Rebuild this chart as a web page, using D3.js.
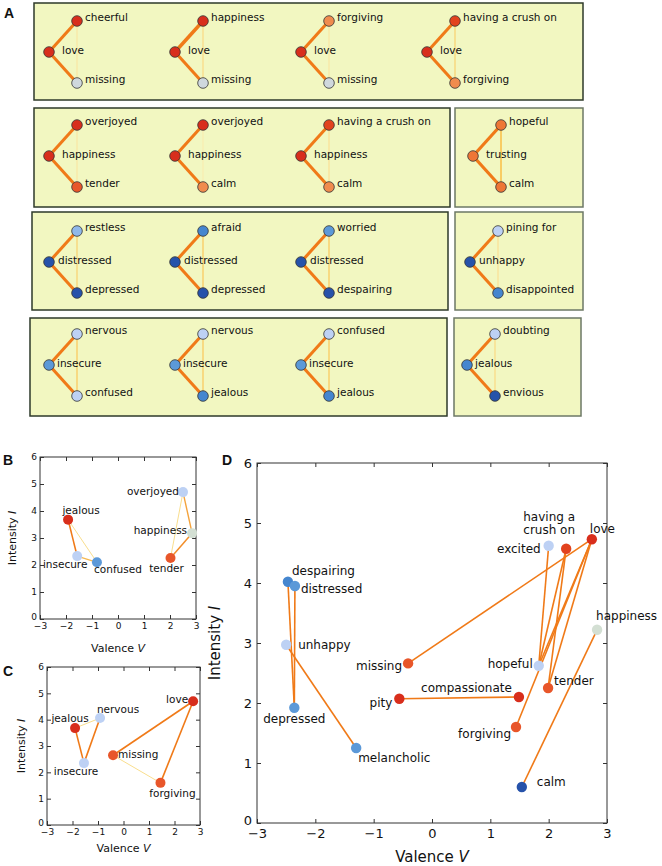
<!DOCTYPE html>
<html>
<head>
<meta charset="utf-8">
<script src="https://cdn.jsdelivr.net/npm/d3@7"></script>
<style>
  body { margin: 0; background: #fff; }
  svg { display: block; }
  text { font-family: "DejaVu Sans", sans-serif; fill: #111; }
  .panel { font-family: "Liberation Sans", Arial, sans-serif; font-weight: bold; }
</style>
</head>
<body>
<svg id="fig" width="662" height="866"></svg>
<script>
// ---------- data ----------
// panel A: one entry per triangle (hub, top, bottom)
const aRow = [0, 0, 0, 0, 1, 1, 1, 1, 2, 2, 2, 2, 3, 3, 3, 3];
const aBox = [0, 0, 0, 0, 0, 0, 0, 1, 0, 0, 0, 1, 0, 0, 0, 1];
const aCol = [0, 1, 2, 3, 0, 1, 2, 0, 0, 1, 2, 0, 0, 1, 2, 0];
const aWords = [
  ["love", "cheerful", "missing"],
  ["love", "happiness", "missing"],
  ["love", "forgiving", "missing"],
  ["love", "having a crush on", "forgiving"],
  ["happiness", "overjoyed", "tender"],
  ["happiness", "overjoyed", "calm"],
  ["happiness", "having a crush on", "calm"],
  ["trusting", "hopeful", "calm"],
  ["distressed", "restless", "depressed"],
  ["distressed", "afraid", "depressed"],
  ["distressed", "worried", "despairing"],
  ["unhappy", "pining for", "disappointed"],
  ["insecure", "nervous", "confused"],
  ["insecure", "nervous", "jealous"],
  ["insecure", "confused", "jealous"],
  ["jealous", "doubting", "envious"]
];
const aTones = [
  ["r", "r", "g"], ["r", "r", "g"], ["r", "o", "g"], ["r", "ro", "o"],
  ["r", "r", "or"], ["r", "r", "o"], ["r", "ro", "o"], ["o2", "o2", "o2"],
  ["db", "lb2", "db"], ["db", "mb2", "db"], ["db", "mb", "db"], ["db", "lb", "mb2"],
  ["mb", "lb", "lb"], ["mb", "lb", "mb2"], ["mb", "lb", "mb2"], ["mb2", "lb", "db"]
];
// link strengths: hub-top, hub-bottom, top-bottom
const aWeights = [
  [0.8, 0.8, 0.1], [0.95, 0.8, 0.2], [0.8, 0.8, 0.1], [0.8, 0.8, 0.25],
  [0.8, 0.8, 0.1], [0.8, 0.8, 0.05], [0.8, 0.8, 0.15], [0.85, 0.85, 0.4],
  [0.8, 0.8, 0.25], [0.8, 0.8, 0.3], [0.8, 0.8, 0.3], [0.8, 0.8, 0.15],
  [0.8, 0.8, 0.3], [0.8, 0.8, 0.3], [0.8, 0.8, 0.3], [0.8, 0.8, 0.2]
];

// panel B
const bWords = ["jealous", "insecure", "confused", "overjoyed", "happiness", "tender"];
const bV = [-1.92, -1.57, -0.81, 2.5, 2.85, 2.02];
const bI = [3.68, 2.33, 2.1, 4.7, 3.18, 2.26];
const bTone = ["r", "lb", "mb", "lb", "gg", "or"];
const bLinks = [
  ["jealous", "insecure", 0.8], ["insecure", "confused", 0.5], ["jealous", "confused", 0.2],
  ["overjoyed", "happiness", 0.6], ["happiness", "tender", 0.7], ["overjoyed", "tender", 0.2]
];

// panel C
const cWords = ["love", "missing", "forgiving", "jealous", "nervous", "insecure"];
const cV = [2.73, -0.41, 1.45, -1.9, -0.92, -1.55];
const cI = [4.7, 2.65, 1.6, 3.68, 4.06, 2.35];
const cTone = ["r", "or", "or", "r", "lb", "lb"];
const cLinks = [
  ["love", "missing", 0.8], ["love", "forgiving", 0.8], ["missing", "forgiving", 0.2],
  ["jealous", "insecure", 0.8], ["nervous", "insecure", 0.8], ["jealous", "nervous", 0.2]
];

// panel D
const dWords = ["despairing", "distressed", "unhappy", "depressed", "melancholic", "missing",
  "pity", "compassionate", "forgiving", "calm", "hopeful", "tender", "happiness", "love",
  "having a crush on", "excited"];
const dV = [-2.47, -2.35, -2.5, -2.36, -1.3, -0.41, -0.56, 1.49, 1.44, 1.54, 1.83, 1.99, 2.83, 2.74, 2.3, 2.0];
const dI = [4.02, 3.95, 2.97, 1.92, 1.25, 2.66, 2.07, 2.1, 1.6, 0.6, 2.62, 2.25, 3.22, 4.73, 4.57, 4.62];
const dTone = ["mb2", "mb", "lb", "mb", "mb", "or", "r", "r", "or", "db", "lb", "or", "gg", "r", "ro", "lb"];
const dLinks = [
  ["despairing", "depressed", 0.8], ["distressed", "depressed", 0.8], ["unhappy", "melancholic", 0.8],
  ["missing", "love", 0.8], ["pity", "compassionate", 0.8], ["forgiving", "love", 0.8],
  ["hopeful", "excited", 0.8], ["hopeful", "having a crush on", 0.8], ["hopeful", "love", 0.8],
  ["tender", "having a crush on", 0.8], ["tender", "love", 0.8], ["calm", "happiness", 0.8]
];

const axisTicks = [-3, -2, -1, 0, 1, 2, 3];
const yTicks = [0, 1, 2, 3, 4, 5, 6];

// ---------- styles ----------
const tone = d3.scaleOrdinal()
  .domain(["r", "ro", "or", "o", "o2", "g", "gg", "lb", "lb2", "mb", "mb2", "db"])
  .range(["#d82e1c", "#e2421e", "#e8562a", "#f08c4e", "#ee7636", "#cfd8dd", "#d3dfd3",
          "#bdd1f4", "#8fb8ea", "#5c99d8", "#4586cf", "#2652aa"]);
const linkColor = d3.scaleLinear().domain([0, 0.4, 0.8]).range(["#f9efb8", "#f8cc62", "#f07a18"]).clamp(true);
const linkWidthA = d3.scaleLinear().domain([0, 1]).range([0.9, 3.6]);
const linkWidthS = d3.scaleLinear().domain([0, 1]).range([0.8, 1.8]);
const fmt = d3.format("d");

const svg = d3.select("#fig");

// ---------- panel A ----------
svg.append("text").attr("class", "panel").attr("x", 4).attr("y", 18).attr("font-size", 14).text("A");

const boxes = [
  { row: 0, box: 0, x0: 34, y0: 3, x1: 583, y1: 100, hub0: 49 },
  { row: 1, box: 0, x0: 34, y0: 108, x1: 450, y1: 207, hub0: 49 },
  { row: 1, box: 1, x0: 455, y0: 108, x1: 583, y1: 207, hub0: 473 },
  { row: 2, box: 0, x0: 32, y0: 212, x1: 448, y1: 310, hub0: 49 },
  { row: 2, box: 1, x0: 455, y0: 212, x1: 583, y1: 310, hub0: 470 },
  { row: 3, box: 0, x0: 30, y0: 318, x1: 447, y1: 416, hub0: 49 },
  { row: 3, box: 1, x0: 454, y0: 318, x1: 581, y1: 416, hub0: 467 }
];
const rowY = d3.scaleOrdinal().domain([0, 1, 2, 3]).range([52, 156, 262, 365]);
const hubLabelDx = d3.scaleOrdinal().domain([0, 1, 2, 3]).range([13, 13, 9, 8]);
const colX = d3.scaleLinear().domain([0, 1]).range([0, 126]);
const roleDx = d3.scaleOrdinal().domain(["hub", "top", "bottom"]).range([0, 28, 28]);
const roleDy = d3.scaleOrdinal().domain(["hub", "top", "bottom"]).range([0, -31, 31]);

const gA = svg.append("g");
gA.selectAll("rect.box").data(boxes).join("rect")
  .attr("x", d => d.x0).attr("y", d => d.y0)
  .attr("width", d => d.x1 - d.x0).attr("height", d => d.y1 - d.y0)
  .attr("fill", "#f2f7c1")
  .attr("stroke", d => d.box === 0 ? "#2e3a2a" : "#6c7866")
  .attr("stroke-width", 1.5);

const tris = aWords.map((w, i) => {
  const b = boxes.find(bx => bx.row === aRow[i] && bx.box === aBox[i]);
  const hx = b.hub0 + colX(aCol[i]);
  const hy = rowY(aRow[i]);
  const nodes = ["hub", "top", "bottom"].map((role, k) => ({
    role, word: w[k], tone: aTones[i][k],
    x: hx + roleDx(role), y: hy + roleDy(role)
  }));
  return { i, row: aRow[i], nodes, weights: aWeights[i] };
});

const triG = gA.selectAll("g.tri").data(tris).join("g");
triG.selectAll("line").data(t => [
  [t.nodes[1], t.nodes[2], t.weights[2]],
  [t.nodes[0], t.nodes[1], t.weights[0]],
  [t.nodes[0], t.nodes[2], t.weights[1]]
]).join("line")
  .attr("x1", d => d[0].x).attr("y1", d => d[0].y)
  .attr("x2", d => d[1].x).attr("y2", d => d[1].y)
  .attr("stroke", d => linkColor(d[2]))
  .attr("stroke-width", d => linkWidthA(d[2]));
triG.selectAll("circle").data(t => t.nodes).join("circle")
  .attr("cx", d => d.x).attr("cy", d => d.y).attr("r", 5.3)
  .attr("fill", d => tone(d.tone)).attr("stroke", "#333").attr("stroke-width", 0.8);
triG.selectAll("text").data(t => t.nodes.map(n => ({ ...n, row: t.row }))).join("text")
  .attr("x", d => d.x + (d.role === "hub" ? hubLabelDx(d.row) : 8))
  .attr("y", d => d.y + (d.role === "hub" ? -2 : -4))
  .attr("dy", "0.35em")
  .attr("font-size", 10.5)
  .text(d => d.word);

// ---------- scatter panels ----------
function scatter(opts) {
  const { words, V, I, tones, links, xr, yr, tickFont, tickPad, xPad, titleFont, labels, r, titleX, titleY, letter } = opts;
  const x = d3.scaleLinear().domain([-3, 3]).range(xr);
  const y = d3.scaleLinear().domain([0, 6]).range(yr);
  const g = svg.append("g");
  const pos = {};
  words.forEach((w, i) => { pos[w] = { x: x(V[i]), y: y(I[i]), tone: tones[i], word: w }; });

  g.append("rect").attr("x", xr[0]).attr("y", yr[1])
    .attr("width", xr[1] - xr[0]).attr("height", yr[0] - yr[1])
    .attr("fill", "none").attr("stroke", "#333").attr("stroke-width", 1);

  const styleAxis = sel => {
    sel.select(".domain").remove();
    sel.selectAll(".tick line").attr("stroke", "#333");
    sel.selectAll(".tick text").attr("font-size", tickFont).attr("fill", "#111")
      .attr("font-family", "DejaVu Sans, sans-serif");
  };
  g.append("g").attr("transform", `translate(0,${yr[0]})`)
    .call(d3.axisBottom(x).tickValues(axisTicks).tickFormat(fmt).tickSizeInner(-4).tickSizeOuter(0).tickPadding(xPad))
    .call(styleAxis);
  g.append("g").attr("transform", `translate(0,${yr[1]})`)
    .call(d3.axisTop(x).tickValues(axisTicks).tickSizeInner(-4).tickSizeOuter(0).tickFormat(""))
    .call(styleAxis);
  const yAxisG = g.append("g").attr("transform", `translate(${xr[0]},0)`)
    .call(d3.axisLeft(y).tickValues(yTicks).tickFormat(fmt).tickSizeInner(-4).tickSizeOuter(0).tickPadding(tickPad))
    .call(styleAxis);
  // lift the "0" a touch so it clears the first x label
  yAxisG.selectAll(".tick").filter(d => d === 0).select("text").attr("dy", "0.1em");
  g.append("g").attr("transform", `translate(${xr[1]},0)`)
    .call(d3.axisRight(y).tickValues(yTicks).tickSizeInner(-4).tickSizeOuter(0).tickFormat(""))
    .call(styleAxis);

  g.selectAll("line.link").data(links).join("line").attr("class", "link")
    .attr("x1", d => pos[d[0]].x).attr("y1", d => pos[d[0]].y)
    .attr("x2", d => pos[d[1]].x).attr("y2", d => pos[d[1]].y)
    .attr("stroke", d => linkColor(d[2]))
    .attr("stroke-width", d => linkWidthS(d[2]));

  g.selectAll("circle").data(words).join("circle")
    .attr("cx", w => pos[w].x).attr("cy", w => pos[w].y).attr("r", r)
    .attr("fill", w => tone(pos[w].tone));

  const lab = g.selectAll("text.lab").data(words).join("text").attr("class", "lab")
    .attr("font-size", opts.labelFont)
    .attr("text-anchor", w => labels[w][0])
    .attr("x", w => pos[w].x + labels[w][1])
    .attr("y", w => pos[w].y + labels[w][2]);
  lab.each(function (w) {
    const t = d3.select(this);
    const lines = labels[w][3] || [w];
    lines.forEach((s, k) => {
      t.append("tspan").attr("x", pos[w].x + labels[w][1])
        .attr("dy", k === 0 ? "0.35em" : "1.08em").text(s);
    });
  });

  const xt = g.append("text").attr("x", (xr[0] + xr[1]) / 2).attr("y", titleY)
    .attr("text-anchor", "middle").attr("dy", "0.35em").attr("font-size", titleFont);
  xt.append("tspan").text("Valence ");
  xt.append("tspan").attr("font-style", "italic").text("V");
  const yt = g.append("text").attr("transform", `translate(${titleX},${(yr[0] + yr[1]) / 2}) rotate(-90)`)
    .attr("text-anchor", "middle").attr("dy", "0.35em").attr("font-size", titleFont);
  yt.append("tspan").text("Intensity ");
  yt.append("tspan").attr("font-style", "italic").text("I");

  svg.append("text").attr("class", "panel").attr("x", letter[0]).attr("y", letter[1])
    .attr("font-size", 14).text(letter[2]);
}

scatter({
  words: bWords, V: bV, I: bI, tones: bTone, links: bLinks,
  xr: [40, 196], yr: [619, 457], tickFont: 9, tickPad: 3, xPad: 4, titleFont: 11, labelFont: 10.5, r: 5,
  titleX: 12, titleY: 648, letter: [3, 465, "B"],
  labels: {
    jealous: ["middle", 13, -9], insecure: ["middle", -12, 8], confused: ["middle", 21, 7],
    overjoyed: ["end", -4, -1], happiness: ["end", -5, -3], tender: ["middle", -4, 10]
  }
});

scatter({
  words: cWords, V: cV, I: cI, tones: cTone, links: cLinks,
  xr: [47, 200], yr: [825, 667], tickFont: 9, tickPad: 3, xPad: 4, titleFont: 11, labelFont: 10.5, r: 5,
  titleX: 21, titleY: 848, letter: [3, 676, "C"],
  labels: {
    love: ["end", -5, -2], nervous: ["middle", 18, -9], jealous: ["middle", -5, -10],
    insecure: ["middle", -8, 8], missing: ["start", 5, -1], forgiving: ["middle", 12, 10]
  }
});

scatter({
  words: dWords, V: dV, I: dI, tones: dTone, links: dLinks,
  xr: [257, 607], yr: [823, 463], tickFont: 13, tickPad: 5, xPad: 6, titleFont: 15, labelFont: 12, r: 5.2,
  titleX: 215, titleY: 857, letter: [222, 465, "D"],
  labels: {
    despairing: ["start", 4, -11], distressed: ["start", 6, 3], unhappy: ["start", 12, 0],
    depressed: ["middle", 0, 11], melancholic: ["start", 2, 10], missing: ["end", -6, 2],
    pity: ["end", -7, 4], compassionate: ["end", -7, -9], forgiving: ["end", -5, 7],
    calm: ["start", 15, -5], hopeful: ["end", -6, -2], tender: ["start", 6, -7],
    happiness: ["start", -1, -14], love: ["start", -2, -10],
    "having a crush on": ["middle", -17, -32, ["having a", "crush on"]],
    excited: ["end", -8, 3]
  }
});
</script>
</body>
</html>
